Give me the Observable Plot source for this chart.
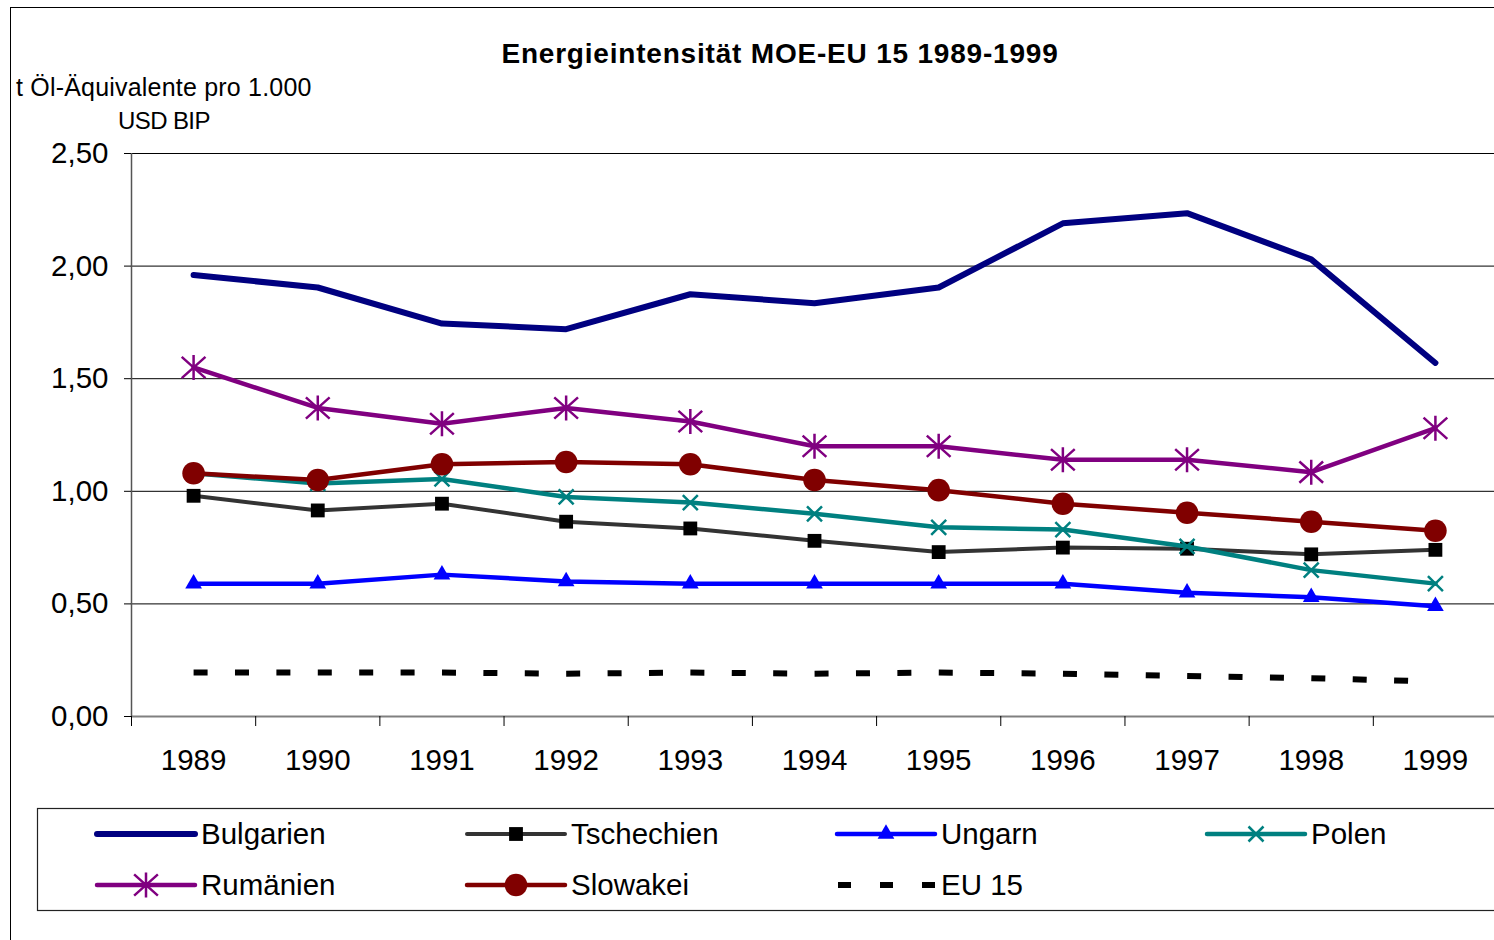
<!DOCTYPE html>
<html><head><meta charset="utf-8">
<script src="https://cdn.jsdelivr.net/npm/d3@7"></script>
<script src="https://cdn.jsdelivr.net/npm/@observablehq/plot@0.6"></script>
<style>
html,body{margin:0;padding:0;overflow:hidden;background:#fff;}
#wrap{position:relative;width:1494px;height:940px;overflow:hidden;font-family:"Liberation Sans",Arial,sans-serif;}
#frame{position:absolute;left:10px;top:7px;width:1500px;height:960px;border:1.5px solid #000;box-sizing:border-box;}
#chart{position:absolute;left:0;top:0;width:1500px;}
#chart svg{max-width:none !important;}
#overlay{position:absolute;left:0;top:0;}
</style></head><body>
<div id="wrap"><div id="frame"></div><div id="chart"></div><svg id="overlay" width="1494" height="940"></svg></div>
<script>
// ---- data ----
const years = [1989, 1990, 1991, 1992, 1993, 1994, 1995, 1996, 1997, 1998, 1999];
const bulgarien  = [1.96, 1.905, 1.745, 1.72, 1.875, 1.835, 1.905, 2.19, 2.235, 2.03, 1.57];
const tschechien = [0.98, 0.915, 0.945, 0.865, 0.835, 0.78, 0.73, 0.75, 0.745, 0.72, 0.74];
const ungarn     = [0.59, 0.59, 0.63, 0.60, 0.59, 0.59, 0.59, 0.59, 0.55, 0.53, 0.49];
const polen      = [1.08, 1.035, 1.055, 0.975, 0.95, 0.90, 0.84, 0.83, 0.755, 0.65, 0.59];
const rumaenien  = [1.55, 1.37, 1.30, 1.37, 1.31, 1.20, 1.20, 1.14, 1.14, 1.085, 1.28];
const slowakei   = [1.08, 1.05, 1.12, 1.13, 1.12, 1.05, 1.005, 0.945, 0.905, 0.865, 0.825];
const eu15       = [0.195, 0.195, 0.195, 0.19, 0.195, 0.19, 0.195, 0.19, 0.18, 0.17, 0.155];
const seriesNames = ["Bulgarien", "Tschechien", "Ungarn", "Polen", "Rumänien", "Slowakei", "EU 15"];
const yTicks = [0, 0.5, 1, 1.5, 2, 2.5];
const title = "Energieintensität MOE-EU 15 1989-1999";
const yLabel1 = "t Öl-Äquivalente pro 1.000";
const yLabel2 = "USD BIP";

// ---- custom symbols ----
const asteriskSym = {draw(ctx, size) {
  const r = Math.sqrt(size / Math.PI);
  ctx.moveTo(0, -r); ctx.lineTo(0, r);
  ctx.moveTo(-r * 0.95, -r * 0.85); ctx.lineTo(r * 0.95, r * 0.85);
  ctx.moveTo(-r * 0.95, r * 0.85); ctx.lineTo(r * 0.95, -r * 0.85);
}};
const timesSym = {draw(ctx, size) {
  const r = Math.sqrt(size / Math.PI);
  ctx.moveTo(-r, -r); ctx.lineTo(r, r);
  ctx.moveTo(-r, r); ctx.lineTo(r, -r);
}};

const styles = {
  "Bulgarien":  {vals: bulgarien,  color: "#000080", width: 6},
  "Tschechien": {vals: tschechien, color: "#333333", width: 4, sym: "square", r: 7.8, fill: "#000", stroke: "none"},
  "Ungarn":     {vals: ungarn,     color: "#0000ff", width: 4.5, sym: "triangle", r: 6.2, fill: "#0000ff", stroke: "none"},
  "Polen":      {vals: polen,      color: "#008080", width: 4.5, sym: timesSym, r: 7.5, fill: "none", stroke: "#008080", sw: 2.5},
  "Rumänien":   {vals: rumaenien,  color: "#800080", width: 4.5, sym: asteriskSym, r: 12.5, fill: "none", stroke: "#800080", sw: 2.5},
  "Slowakei":   {vals: slowakei,   color: "#800000", width: 4.5, sym: "circle", r: 11.3, fill: "#800000", stroke: "none"},
  "EU 15":      {vals: eu15,       color: "#000000", width: 6, dash: "14,27.4"}
};

const bounds = [...years.map(y => y - 0.5), years[years.length - 1] + 0.5];
const fmt = d => d.toFixed(2).replace(".", ",");

const marks = [
  Plot.gridY(yTicks.filter(d => d > 0), {stroke: "#000", strokeOpacity: 1, strokeWidth: 1}),
  Plot.ruleY([0], {stroke: "#808080", strokeWidth: 2}),
  Plot.ruleX([bounds[0]], {stroke: "#555", strokeWidth: 1.5}),
  Plot.axisY(yTicks, {tickSize: 7, tickPadding: 16, fontSize: 29.5, tickFormat: fmt, label: null}),
  Plot.axisX(bounds, {tickSize: 10, tickFormat: () => "", label: null}),
  Plot.axisX(years, {tickSize: 0, tickPadding: 33, fontSize: 29.5, tickFormat: d => String(d), label: null})
];
for (const name of seriesNames) {
  const s = styles[name];
  marks.push(Plot.line(years, {
    x: d => d, y: (d, i) => s.vals[i], stroke: s.color, strokeWidth: s.width,
    strokeDasharray: s.dash, strokeLinecap: s.dash ? "butt" : "round", strokeLinejoin: "round"
  }));
  if (s.sym) {
    marks.push(Plot.dot(years, {
      x: d => d, y: (d, i) => s.vals[i], symbol: s.sym, r: s.r,
      fill: s.fill, stroke: s.stroke, strokeWidth: s.sw || 1
    }));
  }
}

const chart = Plot.plot({
  width: 1500, height: 940,
  marginLeft: 131, marginRight: 3, marginTop: 153, marginBottom: 224,
  x: {type: "linear", domain: [bounds[0], bounds[bounds.length - 1]]},
  y: {domain: [0, 2.5]},
  style: {fontFamily: "'Liberation Sans', Arial, sans-serif", color: "#000", background: "transparent", overflow: "visible", maxWidth: "none"},
  marks
});
document.getElementById("chart").appendChild(chart);

// ---- overlay: title, axis label, legend ----
const ov = d3.select("#overlay").style("font-family", "'Liberation Sans', Arial, sans-serif");
ov.append("text").attr("x", 780).attr("y", 63).attr("text-anchor", "middle")
  .attr("font-size", 28).attr("font-weight", "bold").attr("letter-spacing", "0.8px").text(title);
ov.append("text").attr("x", 16).attr("y", 96).attr("font-size", 25).attr("letter-spacing", "0.2px").text(yLabel1);
ov.append("text").attr("x", 118).attr("y", 129).attr("font-size", 24).attr("letter-spacing", "-0.6px").text(yLabel2);

// legend box
ov.append("rect").attr("x", 37.5).attr("y", 808.5).attr("width", 1470).attr("height", 102)
  .attr("fill", "none").attr("stroke", "#222").attr("stroke-width", 1.2);
const colX = [97, 467, 837, 1207];
const rowY = [834, 885];
seriesNames.forEach((name, k) => {
  const s = styles[name];
  const x0 = colX[k % 4], cy = rowY[Math.floor(k / 4)];
  const g = ov.append("g");
  if (s.dash) {
    g.append("line").attr("x1", 838).attr("x2", 935).attr("y1", cy).attr("y2", cy)
      .attr("stroke", s.color).attr("stroke-width", s.width).attr("stroke-dasharray", "13,29");
  } else {
    g.append("line").attr("x1", x0).attr("x2", x0 + 98).attr("y1", cy).attr("y2", cy)
      .attr("stroke", s.color).attr("stroke-width", s.width).attr("stroke-linecap", "round");
  }
  if (s.sym) {
    const symType = typeof s.sym === "string" ? {square: d3.symbolSquare, triangle: d3.symbolTriangle, circle: d3.symbolCircle}[s.sym] : s.sym;
    g.append("path").attr("transform", `translate(${x0 + 49},${cy})`)
      .attr("d", d3.symbol(symType, Math.PI * s.r * s.r)())
      .attr("fill", s.fill).attr("stroke", s.stroke).attr("stroke-width", s.sw || 1);
  }
  g.append("text").attr("x", x0 + 104).attr("y", cy + 10).attr("font-size", 29.5).text(name);
});
</script>
</body></html>
